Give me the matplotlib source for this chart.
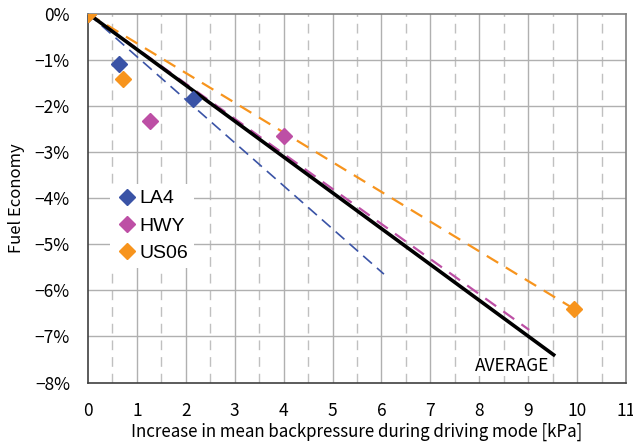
import matplotlib
matplotlib.use("Agg")
import matplotlib.pyplot as plt
import numpy as np

# Scatter data (x: kPa, y: % change in fuel economy)
la4_x = [0.0, 0.63, 2.14]
la4_y = [0.0, -1.10, -1.86]
hwy_x = [1.27, 4.0]
hwy_y = [-2.32, -2.65]
us06_x = [0.0, 0.72, 9.93]
us06_y = [0.0, -1.42, -6.40]

# Trend lines (start, end)
la4_line_x = [0.0, 6.05]
la4_line_y = [0.0, -5.65]
hwy_line_x = [0.0, 9.02]
hwy_line_y = [0.0, -6.86]
us06_line_x = [0.0, 9.93]
us06_line_y = [0.0, -6.40]
avg_line_x = [0.0, 9.52]
avg_line_y = [0.0, -7.40]

x_ticks = list(range(0, 12))
y_ticks = [0, -1, -2, -3, -4, -5, -6, -7, -8]

c_la4 = "#3a53a6"
c_hwy = "#bd4fa5"
c_us06 = "#f7941d"

plt.rcParams['font.family'] = ['Noto Sans CJK JP', 'DejaVu Sans']

fig = plt.figure(figsize=(6.33, 4.44), dpi=100)
ax = fig.add_axes([0.139, 0.1385, 0.850, 0.831])

ax.set_xlim(0, 11)
ax.set_ylim(-8, 0)

# grid
for xv in x_ticks[1:-1]:
    ax.axvline(xv, color="#b0b0b0", lw=1.0, zorder=0)
for xv in np.arange(0.5, 11, 1.0):
    ax.axvline(xv, color="#c0c0c0", lw=1.0, ls=(0, (7, 5)), zorder=0)
for yv in y_ticks[1:-1]:
    ax.axhline(yv, color="#b0b0b0", lw=1.0, zorder=0)

ax.plot(la4_line_x, la4_line_y, color=c_la4, lw=1.2, ls=(0, (7, 4)), zorder=2)
ax.plot(us06_line_x, us06_line_y, color=c_us06, lw=1.6, ls=(0, (6, 4)), zorder=2)
ax.plot(avg_line_x, avg_line_y, color="black", lw=2.6, zorder=3)
ax.plot(hwy_line_x, hwy_line_y, color=c_hwy, lw=1.6, ls=(0, (6, 4)), zorder=2)

ax.plot(la4_x, la4_y, ls="none", marker="D", ms=8, color=c_la4, label="LA4", zorder=4)
ax.plot(hwy_x, hwy_y, ls="none", marker="D", ms=8, color=c_hwy, label="HWY", zorder=4)
ax.plot(us06_x, us06_y, ls="none", marker="D", ms=8, color=c_us06, label="US06", zorder=5)

ax.text(8.67, -7.64, "AVERAGE", ha="center", va="center", fontsize=12.5,
        bbox=dict(facecolor="white", edgecolor="none", pad=1))

ax.set_xticks(x_ticks)
ax.set_xticklabels([str(v) for v in x_ticks], fontsize=12.5)
ax.set_yticks(y_ticks)
ax.set_yticklabels([("0%" if v == 0 else "\u2212%d%%" % (-v)) for v in y_ticks], fontsize=12.5)
ax.tick_params(axis="x", length=0, pad=14)
ax.tick_params(axis="y", length=0, pad=13)

ax.set_xlabel("Increase in mean backpressure during driving mode [kPa]", fontsize=12.2, labelpad=2)
ax.set_ylabel("Fuel Economy", fontsize=12, labelpad=7)

for s in ["top", "right"]:
    ax.spines[s].set_color("#808080")
for s in ["left", "bottom"]:
    ax.spines[s].set_color("#404040")
for s in ax.spines.values():
    s.set_linewidth(1.2)

leg = ax.legend(loc="upper left", bbox_to_anchor=(0.04, 0.538), frameon=True,
                prop={"family": ["Liberation Sans"], "size": 14},
                handletextpad=0.05, labelspacing=0.5, borderpad=0.3, handlelength=1.2,
                borderaxespad=0.0)
leg.get_frame().set_edgecolor("none")
leg.get_frame().set_facecolor("white")
leg.get_frame().set_alpha(1.0)

fig.savefig("out.png", dpi=100)
